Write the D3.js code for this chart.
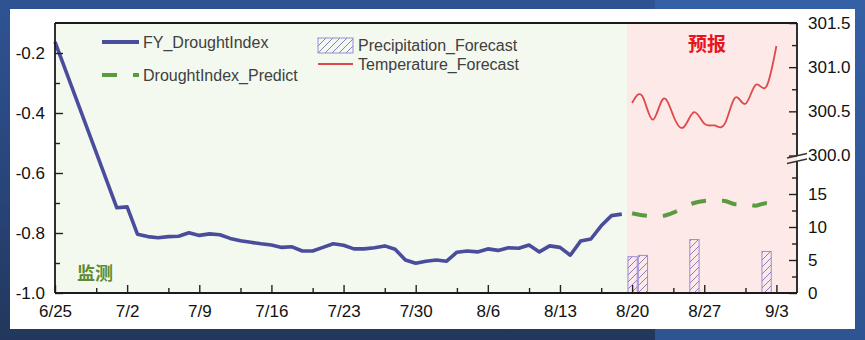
<!DOCTYPE html>
<html><head><meta charset="utf-8">
<script src="https://cdn.jsdelivr.net/npm/d3@7"></script>
<style>html,body{margin:0;padding:0;background:#2a4675;} svg{display:block;}</style>
</head><body><svg id="c" width="865" height="340"></svg>
<script>
// ---------- data ----------
const droughtDates = ["6/25","7/1","7/2","7/3","7/4","7/5","7/6","7/7","7/8","7/9","7/10","7/11","7/12","7/13","7/14","7/15","7/16","7/17","7/18","7/19","7/20","7/21","7/22","7/23","7/24","7/25","7/26","7/27","7/28","7/29","7/30","7/31","8/1","8/2","8/3","8/4","8/5","8/6","8/7","8/8","8/9","8/10","8/11","8/12","8/13","8/14","8/15","8/16","8/17","8/18","8/19"];
const droughtValues = [-0.163,-0.716,-0.713,-0.804,-0.812,-0.816,-0.812,-0.811,-0.799,-0.808,-0.803,-0.806,-0.818,-0.826,-0.831,-0.836,-0.840,-0.848,-0.846,-0.860,-0.860,-0.848,-0.836,-0.841,-0.853,-0.853,-0.849,-0.843,-0.854,-0.890,-0.901,-0.894,-0.890,-0.894,-0.864,-0.860,-0.863,-0.853,-0.858,-0.849,-0.851,-0.840,-0.863,-0.843,-0.848,-0.874,-0.827,-0.820,-0.776,-0.742,-0.737];
const predictDates = ["8/20","8/21","8/22","8/23","8/24","8/25","8/26","8/27","8/28","8/29","8/30","8/31","9/1","9/2","9/3"];
const predictValues = [-0.734,-0.741,-0.744,-0.743,-0.732,-0.715,-0.700,-0.693,-0.693,-0.693,-0.704,-0.703,-0.709,-0.701,-0.714];
const tempDates = ["8/20","8/21","8/22","8/23","8/24","8/25","8/26","8/27","8/28","8/29","8/30","8/31","9/1","9/2","9/3"];
const tempValues = [300.594,300.67,300.405,300.64,300.45,300.32,300.49,300.36,300.34,300.36,300.655,300.585,300.80,300.775,301.24];
const precipDates = ["8/20","8/21","8/26","9/2"];
const precipValues = [5.5,5.7,8.1,6.3];
const xTickLabels = ["6/25","7/2","7/9","7/16","7/23","7/30","8/6","8/13","8/20","8/27","9/3"];
const xMinorTicks = ["6/29","7/6","7/13","7/20","7/27","8/3","8/10","8/17","8/24","8/31"];
const leftTicks = [-1.0,-0.8,-0.6,-0.4,-0.2];
const leftMinor = [-0.9,-0.7,-0.5,-0.3];
const precipTicks = [0,5,10,15];
const precipMinor = [2.5,7.5,12.5,17.5];
const tempTicks = [300.0,300.5,301.0,301.5];
const tempMinor = [300.25,300.75,301.25];

// ---------- layout ----------
const L = 55, R = 797, T = 23, B = 293;
const parse = d3.timeParse("%Y/%m/%d");
const D = s => parse("2023/" + s);
const FONT = "'Liberation Sans', Arial, sans-serif";
const CJK = "'Noto Sans CJK SC', sans-serif";

const svg = d3.select("#c");
const defs = svg.append("defs");
const gl = defs.append("linearGradient").attr("id","bgL").attr("x1",0).attr("y1",0).attr("x2",0).attr("y2",1);
gl.append("stop").attr("offset","0%").attr("stop-color","#2f5393");
gl.append("stop").attr("offset","55%").attr("stop-color","#28457a");
gl.append("stop").attr("offset","100%").attr("stop-color","#22375b");
const gr = defs.append("linearGradient").attr("id","bgR").attr("x1",0).attr("y1",0).attr("x2",0).attr("y2",1);
gr.append("stop").attr("offset","0%").attr("stop-color","#3560a6");
gr.append("stop").attr("offset","100%").attr("stop-color","#2f5492");
const pat = defs.append("pattern").attr("id","hatch").attr("patternUnits","userSpaceOnUse").attr("width",7).attr("height",7);
pat.append("path").attr("d","M0,7 L7,0 M-1,1 L1,-1 M6,8 L8,6").attr("stroke","#7a72c0").attr("stroke-width",0.9);

svg.append("rect").attr("x",0).attr("y",0).attr("width",655).attr("height",340).attr("fill","url(#bgL)");
svg.append("rect").attr("x",655).attr("y",0).attr("width",210).attr("height",340).attr("fill","url(#bgR)");
svg.append("rect").attr("x",10).attr("y",9).attr("width",845).attr("height",320).attr("fill","#ffffff");

// scales
const x = d3.scaleTime().domain([D("6/25"), D("9/5")]).range([L, R]);
const yL = d3.scaleLinear().domain([-1.0, -0.1]).range([B, T]);
const yP = d3.scaleLinear().domain([0, 20]).range([B, 161]);
const yT = d3.scaleLinear().domain([300.0, 301.5]).range([155.5, 23]);

// region backgrounds
const split = x(D("8/19")) + (x(D("8/20")) - x(D("8/19"))) / 2;
svg.append("rect").attr("x",L).attr("y",T).attr("width",split-L).attr("height",B-T).attr("fill","#f3f9ee");
svg.append("rect").attr("x",split).attr("y",T).attr("width",R-split).attr("height",B-T).attr("fill","#fde9e8");

// region labels
svg.append("text").attr("x",95).attr("y",280).attr("text-anchor","middle")
  .attr("font-family",CJK).attr("font-weight","bold").attr("font-size",18).attr("fill","#5b8c32").text("监测");
svg.append("text").attr("x",707).attr("y",51).attr("text-anchor","middle")
  .attr("font-family",CJK).attr("font-weight","bold").attr("font-size",19).attr("fill","#e8141c").text("预报");

// precipitation bars
const dayW = x(D("8/21")) - x(D("8/20"));
const bw = dayW * 0.9;
svg.append("g").selectAll("rect").data(precipValues).join("rect")
  .attr("x",(d,i)=>x(D(precipDates[i])) - bw/2 + 0.5)
  .attr("y",d=>yP(d)).attr("width",bw).attr("height",d=>yP(0)-yP(d))
  .attr("fill","url(#hatch)").attr("stroke","#9c8bd4").attr("stroke-width",1);

// temperature line
const tLine = d3.line().x((d,i)=>x(D(tempDates[i]))).y(d=>yT(d)).curve(d3.curveNatural);
svg.append("path").datum(tempValues).attr("d",tLine).attr("fill","none").attr("stroke","#e0484a").attr("stroke-width",1.8);

// drought line
const dLine = d3.line().x((d,i)=>x(D(droughtDates[i]))).y(d=>yL(d));
svg.append("path").datum(droughtValues).attr("d",dLine).attr("fill","none")
  .attr("stroke","#4a4d9c").attr("stroke-width",3.6).attr("stroke-linejoin","round");

// predict line
const pLine = d3.line().x((d,i)=>x(D(predictDates[i]))).y(d=>yL(d)).curve(d3.curveCatmullRom);
svg.append("path").datum(predictValues).attr("d",pLine).attr("fill","none")
  .attr("stroke","#5a9b3e").attr("stroke-width",4).attr("stroke-dasharray","15,16");

// axes
function styleAxis(g){
  g.select(".domain").remove();
  g.selectAll(".tick line").attr("stroke","#222").attr("stroke-width",1.4);
  g.selectAll(".tick text").attr("font-family",FONT).attr("font-size",17).attr("fill","#111");
}
svg.append("g").attr("transform",`translate(0,${B})`)
  .call(d3.axisBottom(x).tickValues(xTickLabels.map(D)).tickSize(-8).tickPadding(12).tickFormat((d,i)=>xTickLabels[i]))
  .call(styleAxis);
svg.append("g").attr("transform",`translate(0,${B})`)
  .call(d3.axisBottom(x).tickValues(xMinorTicks.map(D)).tickSize(-5).tickFormat(""))
  .call(styleAxis);
svg.append("g").attr("transform",`translate(${L},0)`)
  .call(d3.axisLeft(yL).tickValues(leftTicks).tickSize(-8).tickPadding(10).tickFormat(d=>d.toFixed(1)))
  .call(styleAxis);
svg.append("g").attr("transform",`translate(${L},0)`)
  .call(d3.axisLeft(yL).tickValues(leftMinor).tickSize(-5).tickFormat(""))
  .call(styleAxis);
svg.append("g").attr("transform",`translate(${R},0)`)
  .call(d3.axisRight(yP).tickValues(precipTicks).tickSize(-8).tickPadding(11).tickFormat(d=>String(d)))
  .call(styleAxis);
svg.append("g").attr("transform",`translate(${R},0)`)
  .call(d3.axisRight(yP).tickValues(precipMinor).tickSize(-5).tickFormat(""))
  .call(styleAxis);
svg.append("g").attr("transform",`translate(${R},0)`)
  .call(d3.axisRight(yT).tickValues(tempTicks).tickSize(-8).tickPadding(11).tickFormat(d=>d.toFixed(1)))
  .call(styleAxis);
svg.append("g").attr("transform",`translate(${R},0)`)
  .call(d3.axisRight(yT).tickValues(tempMinor).tickSize(-5).tickFormat(""))
  .call(styleAxis);

// frame
const fr = svg.append("g").attr("stroke","#1a1a1a").attr("stroke-width",1.8).attr("fill","none");
fr.append("line").attr("x1",L).attr("x2",R).attr("y1",T).attr("y2",T);
fr.append("line").attr("x1",L).attr("x2",R).attr("y1",B).attr("y2",B);
fr.append("line").attr("x1",L).attr("x2",L).attr("y1",T).attr("y2",B);
fr.append("line").attr("x1",R).attr("x2",R).attr("y1",T).attr("y2",155.5);
fr.append("line").attr("x1",R).attr("x2",R).attr("y1",161).attr("y2",B);
// axis break marks
const br = svg.append("g").attr("stroke","#333").attr("stroke-width",1.3);
br.append("line").attr("x1",787).attr("y1",158).attr("x2",807).attr("y2",153.5);
br.append("line").attr("x1",787).attr("y1",163.5).attr("x2",807).attr("y2",159);

// legend
const lg = svg.append("g").attr("font-family",FONT).attr("font-size",16).attr("fill","#404040");
lg.append("line").attr("x1",102).attr("x2",139).attr("y1",42).attr("y2",42).attr("stroke","#4a4d9c").attr("stroke-width",4);
lg.append("text").attr("x",143).attr("y",42).attr("dy","0.35em").text("FY_DroughtIndex");
lg.append("line").attr("x1",102).attr("x2",139).attr("y1",75).attr("y2",75).attr("stroke","#5a9b3e").attr("stroke-width",4).attr("stroke-dasharray","15,16");
lg.append("text").attr("x",143).attr("y",75).attr("dy","0.35em").text("DroughtIndex_Predict");
lg.append("rect").attr("x",318).attr("y",38).attr("width",35).attr("height",15).attr("fill","url(#hatch)").attr("stroke","#9c8bd4").attr("stroke-width",1);
lg.append("text").attr("x",358).attr("y",45).attr("dy","0.35em").text("Precipitation_Forecast");
lg.append("line").attr("x1",318).attr("x2",353).attr("y1",64).attr("y2",64).attr("stroke","#e0484a").attr("stroke-width",1.8);
lg.append("text").attr("x",358).attr("y",64).attr("dy","0.35em").text("Temperature_Forecast");
</script>
</body></html>
